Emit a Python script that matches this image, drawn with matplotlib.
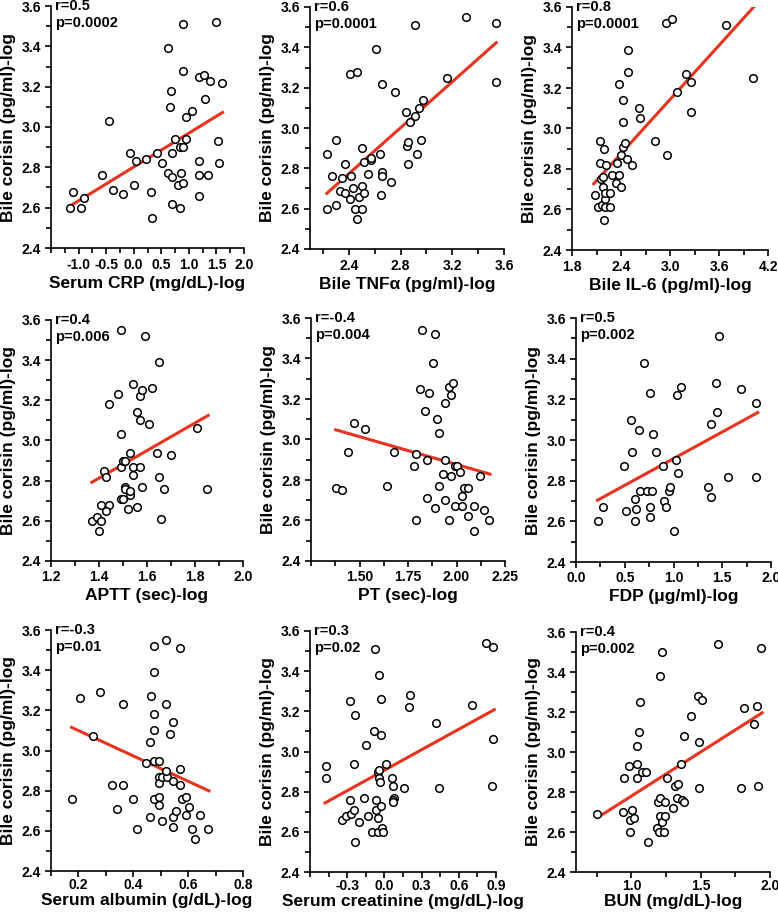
import numpy as np
import matplotlib
matplotlib.use("Agg")
import matplotlib.pyplot as plt
from matplotlib.ticker import MultipleLocator

plt.rcParams['font.family'] = ['Liberation Sans', 'DejaVu Sans']
plt.rcParams['font.weight'] = 'bold'
plt.rcParams['axes.labelweight'] = 'bold'

# ---- data (log scale values) ----
crp_x = [-1.16, -1.10, -0.91, -0.95, -0.58, -0.44, -0.37, -0.20, -0.06, 0.00,
         0.05, 0.23, 0.31, 0.42, 0.34, 0.52, 0.62, 0.63, 0.67, 0.66,
         0.70, 0.69, 0.69, 0.74, 0.80, 0.84, 0.86, 0.89, 0.84, 0.90,
         0.90, 0.90, 0.94, 0.95, 1.06, 1.19, 1.19, 1.27, 1.19, 1.19,
         1.29, 1.34, 1.39, 1.49, 1.53, 1.54, 1.60]
crp_y = [2.60, 2.68, 2.65, 2.60, 2.76, 3.03, 2.69, 2.67, 2.87, 2.71,
         2.83, 2.84, 2.68, 2.87, 2.55, 2.82, 2.77, 3.39, 3.18, 3.10,
         2.87, 2.75, 2.62, 2.94, 2.71, 2.90, 2.77, 2.90, 2.60, 2.72,
         3.51, 3.28, 2.94, 3.05, 3.08, 2.83, 3.25, 3.26, 2.76, 2.66,
         3.14, 2.76, 3.23, 3.52, 2.93, 2.82, 3.22]

tnf_x = [2.23, 2.23, 2.27, 2.30, 2.30, 2.33, 2.35, 2.37, 2.37, 2.41,
         2.42, 2.43, 2.41, 2.46, 2.45, 2.46, 2.48, 2.50, 2.50, 2.50,
         2.52, 2.52, 2.55, 2.57, 2.57, 2.64, 2.65, 2.66, 2.66, 2.66,
         2.61, 2.73, 2.76, 2.84, 2.85, 2.86, 2.86, 2.87, 2.91, 2.94,
         2.93, 2.91, 2.96, 2.97, 3.16, 3.31, 3.54, 3.54]
tnf_y = [2.60, 2.87, 2.76, 2.62, 2.94, 2.69, 2.75, 2.82, 2.68, 2.65,
         2.76, 2.70, 3.27, 3.28, 2.60, 2.55, 2.66, 2.60, 2.90, 2.71,
         2.68, 2.83, 2.77, 2.84, 2.85, 2.87, 2.67, 2.78, 2.76, 3.22,
         3.39, 2.73, 3.18, 3.08, 2.91, 2.93, 2.82, 3.03, 3.06, 3.10,
         2.87, 3.51, 2.94, 3.14, 3.25, 3.55, 3.52, 3.23]

il6_x = [2.08, 2.14, 2.14, 2.12, 2.16, 2.18, 2.18, 2.17, 2.20, 2.21,
         2.19, 2.19, 2.22, 2.20, 2.27, 2.27, 2.29, 2.34, 2.35, 2.37,
         2.37, 2.40, 2.40, 2.43, 2.43, 2.43, 2.45, 2.47, 2.48, 2.49,
         2.53, 2.62, 2.63, 2.82, 2.96, 2.95, 3.02, 3.08, 3.20, 3.26,
         3.26, 3.68, 4.02]
il6_y = [2.67, 2.94, 2.83, 2.61, 2.75, 2.76, 2.71, 2.62, 2.65, 2.68,
         2.55, 2.90, 2.82, 2.61, 2.61, 2.68, 2.77, 2.73, 2.83, 2.77,
         3.22, 2.71, 2.87, 2.91, 3.03, 3.14, 2.93, 2.85, 3.28, 3.39,
         2.82, 3.10, 3.05, 2.94, 2.87, 3.52, 3.54, 3.18, 3.27, 3.23,
         3.08, 3.51, 3.25]

aptt_x = [1.37, 1.39, 1.41, 1.40, 1.41, 1.44, 1.43, 1.42, 1.43, 1.44,
          1.48, 1.49, 1.49, 1.49, 1.49, 1.50, 1.50, 1.51, 1.51, 1.51,
          1.52, 1.53, 1.53, 1.53, 1.54, 1.54, 1.54, 1.56, 1.57, 1.57,
          1.58, 1.57, 1.58, 1.56, 1.61, 1.59, 1.62, 1.64, 1.65, 1.65,
          1.66, 1.67, 1.70, 1.81, 1.85]
aptt_y = [2.60, 2.62, 2.60, 2.55, 2.68, 2.68, 2.65, 2.85, 2.82, 3.18,
          3.23, 3.55, 3.03, 2.87, 2.71, 2.71, 2.90, 2.90, 2.77, 2.76,
          2.66, 2.73, 2.75, 2.94, 2.83, 2.87, 3.28, 3.14, 3.10, 3.22,
          3.25, 2.87, 2.77, 2.67, 3.08, 3.52, 3.26, 2.94, 2.82, 3.39,
          2.61, 2.76, 2.93, 3.06, 2.76]

pt_x = [1.38, 1.41, 1.47, 1.53, 1.44, 1.64, 1.68, 1.79, 1.78, 1.79,
        1.82, 1.81, 1.88, 1.89, 1.84, 1.86, 1.85, 1.85, 1.89, 1.91,
        1.90, 1.91, 1.93, 1.94, 1.94, 1.94, 1.96, 1.97, 1.96, 1.98,
        1.97, 1.99, 1.99, 2.00, 2.02, 2.03, 2.03, 2.04, 2.06, 2.06,
        2.09, 2.09, 2.12, 2.14, 2.17]
pt_y = [2.76, 2.75, 3.08, 3.05, 2.94, 2.77, 2.94, 2.93, 2.87, 2.60,
        3.54, 3.25, 3.38, 3.52, 3.14, 3.23, 2.90, 2.71, 2.66, 2.77,
        3.10, 3.03, 2.83, 3.18, 2.90, 2.70, 2.60, 2.82, 3.26, 3.28,
        3.22, 2.67, 2.87, 2.87, 2.84, 2.72, 2.67, 2.76, 2.76, 2.62,
        2.67, 2.55, 2.82, 2.65, 2.60]

fdp_x = [0.23, 0.28, 0.49, 0.51, 0.56, 0.57, 0.61, 0.60, 0.62, 0.65,
         0.66, 0.70, 0.73, 0.76, 0.76, 0.76, 0.78, 0.79, 0.82, 0.89,
         0.90, 0.92, 0.95, 0.96, 1.00, 1.03, 1.04, 1.05, 1.08, 1.35,
         1.38, 1.38, 1.44, 1.45, 1.47, 1.56, 1.69, 1.85, 1.85]
fdp_y = [2.60, 2.67, 2.87, 2.65, 3.10, 2.94, 2.71, 2.60, 2.66, 3.05,
         2.75, 3.38, 2.75, 3.23, 2.67, 2.62, 2.75, 3.03, 2.94, 2.87,
         2.70, 2.67, 2.75, 2.77, 2.55, 2.90, 3.22, 2.84, 3.26, 2.77,
         2.72, 3.08, 3.28, 3.14, 3.51, 2.82, 3.25, 3.18, 2.82]

alb_x = [0.175, 0.204, 0.254, 0.277, 0.322, 0.340, 0.362, 0.362, 0.399, 0.414,
         0.447, 0.462, 0.462, 0.463, 0.475, 0.475, 0.477, 0.477, 0.477, 0.477,
         0.492, 0.492, 0.492, 0.492, 0.492, 0.506, 0.506, 0.518, 0.519, 0.522,
         0.519, 0.534, 0.544, 0.546, 0.545, 0.545, 0.557, 0.569, 0.569, 0.569,
         0.578, 0.591, 0.591, 0.603, 0.613, 0.625, 0.644, 0.673]
alb_y = [2.76, 3.26, 3.07, 3.29, 2.83, 2.71, 3.23, 2.83, 2.76, 2.61,
         2.94, 3.04, 2.67, 3.27, 2.95, 2.76, 3.18, 3.10, 3.39, 3.52,
         2.95, 2.87, 2.84, 2.77, 2.73, 2.87, 2.65, 3.55, 3.23, 2.87,
         2.90, 3.08, 2.85, 3.14, 2.67, 2.62, 2.70, 2.91, 2.83, 3.51,
         2.76, 2.77, 2.68, 2.72, 2.61, 2.56, 2.68, 2.61]

cre_x = [-0.474, -0.474, -0.344, -0.312, -0.274, -0.274, -0.268, -0.249, -0.249, -0.238,
         -0.238, -0.206, -0.168, -0.152, -0.135, -0.098, -0.079, -0.087, -0.065, -0.065,
         -0.054, -0.051, -0.049, -0.043, -0.043, -0.041, -0.035, -0.027, -0.027, -0.024,
         -0.019, -0.008, 0.016, 0.065, 0.073, 0.079, 0.073, 0.073, 0.160, 0.203,
         0.195, 0.420, 0.439, 0.710, 0.818, 0.872, 0.878, 0.864]
cre_y = [2.93, 2.87, 2.66, 2.68, 2.76, 3.25, 2.69, 2.71, 2.94, 3.18,
         2.55, 2.65, 2.77, 3.03, 2.68, 2.60, 3.51, 3.10, 2.76, 2.71,
         2.90, 2.60, 2.67, 3.38, 2.87, 2.91, 2.85, 2.73, 3.26, 3.08,
         2.62, 2.60, 2.94, 2.87, 2.83, 2.77, 2.76, 2.75, 2.82, 3.28,
         3.22, 3.14, 2.82, 3.23, 3.54, 3.52, 3.06, 2.83]

bun_x = [0.751, 0.942, 0.947, 0.981, 0.988, 0.993, 1.007, 1.022, 1.039, 1.039,
         1.039, 1.056, 1.061, 1.077, 1.107, 1.121, 1.182, 1.194, 1.196, 1.208,
         1.208, 1.218, 1.208, 1.218, 1.232, 1.240, 1.245, 1.257, 1.300, 1.315,
         1.337, 1.327, 1.356, 1.363, 1.378, 1.378, 1.433, 1.479, 1.511, 1.487,
         1.487, 1.625, 1.790, 1.813, 1.881, 1.903, 1.910, 1.937]
bun_y = [2.69, 2.70, 2.87, 2.93, 2.66, 2.60, 2.71, 2.67, 2.87, 2.94,
         3.03, 3.10, 3.25, 2.90, 2.90, 2.55, 2.62, 2.75, 2.60, 2.77,
         2.68, 2.65, 3.38, 3.50, 2.60, 2.68, 2.75, 2.87, 2.72, 2.83,
         2.84, 2.77, 2.94, 2.76, 2.75, 3.08, 3.18, 3.28, 3.26, 3.05,
         2.82, 3.54, 2.82, 3.22, 3.14, 3.23, 2.83, 3.52]

# regression line end points
fit_x = [[-1.16, 1.61], [2.23, 3.54], [2.066, 4.025],
         [1.37, 1.855], [1.377, 2.173], [0.221, 1.864],
         [0.175, 0.676], [-0.479, 0.886], [0.76, 1.944]]
fit_y = [[2.607, 3.072], [2.676, 3.423], [2.727, 3.60],
         [2.792, 3.125], [3.048, 2.829], [2.704, 3.135],
         [3.115, 2.799], [2.744, 3.208], [2.674, 3.196]]

r_text = ['r=0.5', 'r=0.6', 'r=0.8', 'r=0.4', 'r=-0.4', 'r=0.5', 'r=-0.3', 'r=0.3', 'r=0.4']
p_text = ['p=0.0002', 'p=0.0001', 'p=0.0001', 'p=0.006', 'p=0.004', 'p=0.002',
          'p=0.01', 'p=0.02', 'p=0.002']

x_labels = ['Serum CRP (mg/dL)-log', 'Bile TNF\u03b1 (pg/ml)-log', 'Bile IL-6 (pg/ml)-log',
            'APTT (sec)-log', 'PT (sec)-log', 'FDP (\u03bcg/ml)-log',
            'Serum albumin (g/dL)-log', 'Serum creatinine (mg/dL)-log', 'BUN (mg/dL)-log']
y_label = 'Bile corisin (pg/ml)-log'

xs = [crp_x, tnf_x, il6_x, aptt_x, pt_x, fdp_x, alb_x, cre_x, bun_x]
ys = [crp_y, tnf_y, il6_y, aptt_y, pt_y, fdp_y, alb_y, cre_y, bun_y]

# axis settings: (xmin, xmax, major ticks, minor step)
x_axes = [(-1.5, 2.0, [-1.0, -0.5, 0.0, 0.5, 1.0, 1.5, 2.0], 0.25),
          (2.1, 3.6, [2.4, 2.8, 3.2, 3.6], 0.2),
          (1.8, 4.2, [1.8, 2.4, 3.0, 3.6, 4.2], 0.3),
          (1.2, 2.0, [1.2, 1.4, 1.6, 1.8, 2.0], 0.1),
          (1.25, 2.25, [1.50, 1.75, 2.00, 2.25], 0.125),
          (0.0, 2.0, [0.0, 0.5, 1.0, 1.5, 2.0], 0.25),
          (0.1, 0.8, [0.2, 0.4, 0.6, 0.8], 0.1),
          (-0.6, 0.9, [-0.3, 0.0, 0.3, 0.6, 0.9], 0.15),
          (0.6, 2.0, [1.0, 1.5, 2.0], 0.25)]
x_fmt = ['%.1f', '%.1f', '%.1f', '%.1f', '%.2f', '%.1f', '%.1f', '%.1f', '%.1f']

# pixel boxes of each plotting area (left, top, right, bottom)
boxes = [(51, 6, 244, 248), (310, 7, 504, 249), (572, 7, 768, 250),
         (51, 320, 243, 561), (311, 318, 505, 561), (576, 318, 771, 562),
         (51, 630, 243, 871), (310, 631, 496, 872), (576, 632, 770, 872)]
# bottom row is packed a little tighter under the axis
row_pad = [(3, 3), (3, 3), (3, 3), (2.5, 3), (2.5, 3), (2.5, 3), (1, 1), (1, 1), (1, 1)]

W, H = 778, 913
fig = plt.figure(figsize=(W / 100, H / 100), dpi=100)

for i in range(9):
    l, t, r, b = boxes[i]
    ax = fig.add_axes([l / W, 1 - b / H, (r - l) / W, (b - t) / H])
    ax.scatter(xs[i], ys[i], s=30, facecolors='white', edgecolors='black',
               linewidths=1.1, zorder=3, clip_on=False)
    ax.plot(fit_x[i], fit_y[i], color='#e8331f', lw=2.2, zorder=2)

    xmin, xmax, maj, mstep = x_axes[i]
    ax.set_xlim(xmin, xmax)
    ax.set_ylim(2.4, 3.6)
    ax.set_xticks(maj)
    ax.set_xticklabels([x_fmt[i] % v for v in maj])
    ax.xaxis.set_minor_locator(MultipleLocator(mstep))
    ax.set_yticks(np.arange(2.4, 3.61, 0.2))
    ax.set_yticklabels(['%.1f' % v for v in np.arange(2.4, 3.61, 0.2)])
    ax.yaxis.set_minor_locator(MultipleLocator(0.1))

    for s in ['top', 'right']:
        ax.spines[s].set_visible(False)
    for s in ['left', 'bottom']:
        ax.spines[s].set_linewidth(1.2)
    tpad, lpad = row_pad[i]
    ax.tick_params(which='major', length=4, width=1.2, labelsize=10, pad=3)
    ax.tick_params(axis='x', which='major', pad=tpad)
    ax.tick_params(which='minor', length=3.5, width=1.2)

    ax.set_xlabel(x_labels[i], fontsize=12.5, labelpad=lpad)
    ax.set_ylabel(y_label, fontsize=12.5, labelpad=4)

    ax.annotate(r_text[i], xy=(0, 1), xycoords='axes fraction', xytext=(3, 0),
                textcoords='offset points', fontsize=10.5, va='center', ha='left')
    ax.annotate(p_text[i], xy=(0, 1), xycoords='axes fraction', xytext=(3, -12),
                textcoords='offset points', fontsize=10.5, va='center', ha='left')

fig.savefig('out.png', dpi=100)
